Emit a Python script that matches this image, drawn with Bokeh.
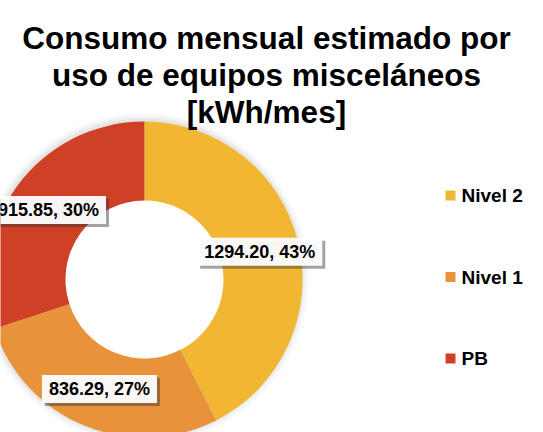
import math
from bokeh.plotting import figure
from bokeh.models import Range1d, ColumnDataSource
from bokeh.core.properties import value
from bokeh.embed import file_html
from bokeh.resources import INLINE

# ---- data ----
categorias = ["Nivel 2", "Nivel 1", "PB"]
consumo = [1294.20, 836.29, 915.85]
porcentajes = [43, 27, 30]
colores = ["#F1B733", "#E8923A", "#CF4126"]
titulo = ["Consumo mensual estimado por", "uso de equipos misceláneos", "[kWh/mes]"]

# ---- layout (page pixel space, y up) ----
W, H = 543, 432
PAGE_H = 432
cx, cy = 144, PAGE_H - 279
r_in, r_out = 79, 158
FONT = value("Liberation Sans")

p = figure(width=W, height=H, x_range=Range1d(0, W),
           y_range=Range1d(PAGE_H - H, PAGE_H),
           output_backend="svg", toolbar_location=None, min_border=0)
p.axis.visible = False
p.grid.visible = False
p.outline_line_color = None
p.background_fill_color = "white"
p.border_fill_color = "white"

total = sum(consumo)
starts, ends, mids = [], [], []
acc = 0.0
for v in consumo:
    a0 = math.pi / 2 - 2 * math.pi * acc / total
    acc += v
    a1 = math.pi / 2 - 2 * math.pi * acc / total
    starts.append(a0)
    ends.append(a1)
    mids.append((a0 + a1) / 2)

# soft shadow around ring
for dr, al in [(7, 0.04), (4, 0.05), (2, 0.06)]:
    p.annulus(x=[cx - 1], y=[cy + 1], inner_radius=r_out - 2, outer_radius=r_out + dr,
              fill_color="#555555", fill_alpha=al, line_color=None)

src = ColumnDataSource(dict(start=starts, end=ends, color=colores))
p.annular_wedge(x=cx, y=cy, inner_radius=r_in, outer_radius=r_out,
                start_angle="start", end_angle="end", direction="clock",
                fill_color="color", line_color=None, source=src)

r_mid = (r_in + r_out) / 2
lx = [cx + r_mid * math.cos(a) for a in mids]
ly = [cy + r_mid * math.sin(a) for a in mids]
etiquetas = [f"{v:.2f}, {pc}%" for v, pc in zip(consumo, porcentajes)]
pad = dict(left=7, right=7, top=4, bottom=4)

# label shadow
p.text(x=lx, y=ly, text=etiquetas, x_offset=3, y_offset=3,
       text_align="center", text_baseline="middle", text_font=FONT,
       text_font_style="bold", text_font_size="18px", text_alpha=0,
       background_fill_color="#333333", background_fill_alpha=0.45, padding=pad)
# label box + text
p.text(x=lx, y=ly, text=etiquetas,
       text_align="center", text_baseline="middle", text_font=FONT,
       text_font_style="bold", text_font_size="18px", text_color="black",
       background_fill_color="white", background_fill_alpha=0.95, padding=pad)

# legend
leg_x = 450
leg_y = [PAGE_H - 195 - i * 81.5 for i in range(len(categorias))]
p.scatter(x=[leg_x] * len(categorias), y=leg_y, marker="square", size=10,
          fill_color=colores, line_color=None)
p.text(x=[leg_x + 11] * len(categorias), y=leg_y, text=categorias,
       text_align="left", text_baseline="middle", text_font=FONT,
       text_font_style="bold", text_font_size="19px", text_color="black")

# title
p.text(x=[266] * 3, y=[PAGE_H - 37 - i * 37 for i in range(3)], text=titulo,
       text_align="center", text_baseline="alphabetic", text_font=FONT,
       text_font_style="bold", text_font_size="31.5px", text_color="black")

open("out.html", "w").write(file_html(p, INLINE))
